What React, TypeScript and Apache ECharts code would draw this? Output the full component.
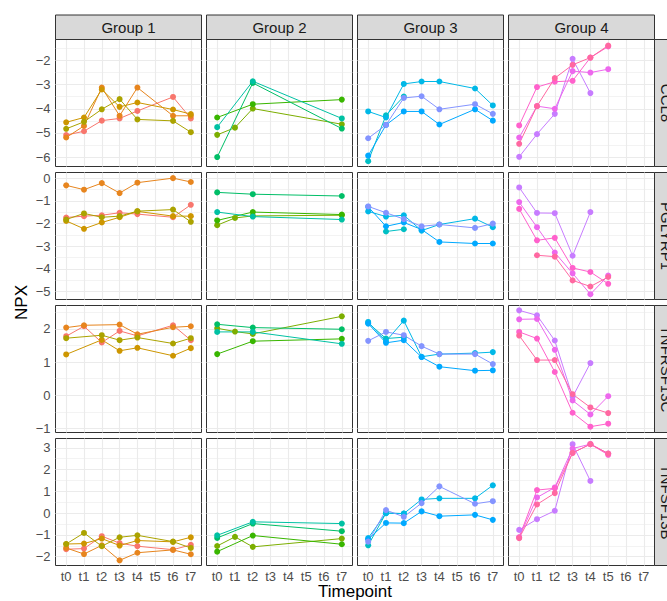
import React, { useEffect, useRef } from 'react';
import * as echarts from 'echarts';

const timepoints = ['t0', 't1', 't2', 't3', 't4', 't5', 't6', 't7'];
const groups = ['Group 1', 'Group 2', 'Group 3', 'Group 4'];
const proteins = ['CCL8', 'PGLYRP1', 'TNFRSF13C', 'TNFSF13B'];
const subjectColors = [
  '#F8766D', '#E7851E', '#CD9600', '#ABA300',
  '#7CAE00', '#39B600', '#00BE67', '#00C1A3',
  '#00BFC4', '#00B8E7', '#00A9FF', '#8494FF',
  '#C77CFF', '#ED68ED', '#FF61CC', '#FF68A1',
];
const subjectGroup = [0, 0, 0, 0, 1, 1, 1, 1, 2, 2, 2, 2, 3, 3, 3, 3];
const _ = null;

const ccl8 = [
  [-5.09, -4.93, -4.49, -4.40, -4.09, _, -3.51, -4.40],
  [-5.19, -4.71, -3.12, -4.29, -3.12, _, -4.29, -4.29],
  [-4.56, -4.36, -3.20, -3.92, -3.74, _, -4.03, -4.22],
  [-4.83, -4.54, -4.02, -3.60, -4.44, _, -4.50, -4.97],
  [-5.08, -4.78, -3.99, _, _, _, _, -4.64],
  [-4.36, _, -3.81, _, _, _, _, -3.62],
  [-6.00, _, -2.93, _, _, _, _, -4.82],
  [-4.76, _, -2.86, _, _, _, _, -4.40],
  [-6.17, -4.27, -3.49, _, _, _, _, _],
  [-4.11, -4.36, -2.97, -2.87, -2.87, _, -3.16, -3.86],
  [-5.94, -4.67, -4.11, -4.11, -4.65, _, -4.02, -4.49],
  [-5.22, -4.67, -3.55, -3.48, -4.02, _, -3.81, -4.21],
  [-5.99, -5.05, -4.21, -1.93, -3.35, _, _, _],
  [-5.19, -3.89, -4.00, -2.44, -2.50, -2.36, _, _],
  [-4.69, -3.10, -2.88, -2.84, -1.88, -1.42, _, _],
  [-5.45, -3.89, -2.73, -2.18, -1.88, -1.38, _, _],
];

const pglyrp1 = [
  [-1.73, -1.67, -1.63, -1.52, -1.58, _, -1.72, -1.17],
  [-0.31, -0.50, -0.21, -0.65, -0.19, _, 0.01, -0.16],
  [-1.88, -2.23, -1.95, -1.72, -1.46, _, -1.67, -1.67],
  [-1.82, -1.55, -1.72, -1.67, -1.45, _, -1.38, -1.92],
  [-2.07, -1.75, -1.66, _, _, _, _, -1.63],
  [-1.86, _, -1.49, _, _, _, _, -1.60],
  [-0.62, _, -0.70, _, _, _, _, -0.78],
  [-1.49, _, -1.69, _, _, _, _, -1.82],
  [_, -2.35, -2.25, _, _, _, _, _],
  [-1.46, -1.69, -1.63, -2.31, -2.04, _, -1.78, -2.16],
  [-1.26, -2.12, -1.95, -2.26, -2.81, _, -2.88, -2.88],
  [-1.24, -1.52, -1.80, -2.12, -2.04, _, -2.19, -2.00],
  [-0.40, -1.53, -1.54, -3.42, -1.49, _, _, _],
  [-1.05, -2.16, -3.28, -4.20, -5.12, -4.30, _, _],
  [-1.35, -2.74, -2.63, -3.96, -4.14, -4.66, _, _],
  [_, -3.40, -3.46, -4.51, -4.78, -4.36, _, _],
];

const tnfrsf13c = [
  [1.78, 2.08, 1.59, 1.94, 1.79, _, 2.11, 1.66],
  [2.04, 2.11, _, 2.13, 1.84, _, 2.05, 2.08],
  [1.23, _, 1.67, 1.34, 1.43, _, 1.19, 1.42],
  [1.72, _, 1.81, 1.66, 1.74, _, 1.56, 1.72],
  [2.02, 1.92, 1.85, _, _, _, _, 2.38],
  [1.24, _, 1.63, _, _, _, _, 1.70],
  [2.14, _, 2.04, _, _, _, _, 1.99],
  [1.91, _, 1.91, _, _, _, _, 1.55],
  [2.18, 1.71, 1.75, _, _, _, _, _],
  [2.21, 1.63, 2.25, 1.16, 1.24, _, 1.27, 1.30],
  [2.16, 1.58, 1.66, 1.15, 0.86, _, 0.74, 0.75],
  [1.64, 1.91, 1.81, 1.48, 1.24, _, 1.24, 0.94],
  [2.56, 2.41, 1.65, -0.05, 0.97, _, _, _],
  [2.29, 2.30, 1.37, -0.16, -0.58, -0.03, _, _],
  [1.91, 1.71, 0.70, -0.53, -0.95, -0.86, _, _],
  [1.80, 1.06, 1.06, 0.03, -0.37, -0.54, _, _],
];

const tnfsf13b = [
  [-1.66, -1.63, -1.06, -1.38, -1.52, _, -1.68, -1.46],
  [-1.60, -1.88, -1.48, -2.17, -1.82, _, -1.69, -1.89],
  [-1.42, -1.40, -1.17, -1.49, -1.26, _, -1.32, -1.11],
  [-1.42, -0.91, -1.52, -1.11, -1.02, _, -1.31, -1.60],
  [-1.51, -1.09, -1.55, _, _, _, _, -1.17],
  [-1.77, _, -1.03, _, _, _, _, -1.43],
  [-1.14, _, -0.48, _, _, _, _, -0.83],
  [-1.02, _, -0.40, _, _, _, _, -0.48],
  [-1.48, 0.00, -0.02, _, _, _, _, _],
  [-1.15, 0.00, -0.02, 0.63, 0.68, _, 0.68, 1.28],
  [-1.20, -0.45, -0.46, 0.08, -0.14, _, -0.08, -0.31],
  [-1.31, 0.14, -0.17, 0.46, 1.23, _, 0.43, 0.55],
  [-0.77, -0.28, 0.11, 3.17, 1.48, _, _, _],
  [-1.11, 0.72, 1.18, 2.97, 3.17, 2.74, _, _],
  [-1.11, 1.06, 1.14, 2.77, 3.17, 2.68, _, _],
  [-1.15, 0.40, 0.92, 2.77, 3.17, 2.74, _, _],
];

const proteinData = [ccl8, pglyrp1, tnfrsf13c, tnfsf13b];
const yRanges = [
  [-6.39, -1.13],
  [-5.355, 0.259],
  [-1.126, 2.707],
  [-2.407, 3.43],
];
const yTicks = [
  [-6, -5, -4, -3, -2],
  [-5, -4, -3, -2, -1, 0],
  [-1, 0, 1, 2],
  [-2, -1, 0, 1, 2, 3],
];

const FONT = '"Liberation Sans", Arial, Helvetica, sans-serif';
const colLeft = [55.5, 206.5, 357.5, 508.5];
const rowTop = [39.5, 172.5, 305.5, 438.5];
const PW = 146;
const PH = 127;

function fmtNum(v: number) {
  return v < 0 ? '\u2212' + Math.abs(v) : String(v);
}

export default function App() {
  const ref = useRef<HTMLDivElement>(null);
  useEffect(() => {
    const chart = echarts.init(ref.current!, null, { renderer: 'svg' });
    const grid: any[] = [];
    const xAxis: any[] = [];
    const yAxis: any[] = [];
    const series: any[] = [];
    const graphic: any[] = [];
    const xIdx = timepoints.map((_t, i) => i);

    for (let r = 0; r < 4; r++) {
      const [ymin, ymax] = yRanges[r];
      const majors = yTicks[r];
      const minors: number[] = [];
      const lo = Math.floor(ymin) - 1;
      for (let k = lo; k <= Math.ceil(ymax) + 1; k++) {
        const m = k + 0.5;
        if (m > ymin && m < ymax) minors.push(m);
      }
      for (let c = 0; c < 4; c++) {
        const idx = r * 4 + c;
        grid.push({
          left: colLeft[c], top: rowTop[r], width: PW, height: PH,
          show: true, borderColor: '#333333', borderWidth: 1, backgroundColor: '#FFFFFF',
        });
        xAxis.push({
          type: 'value', gridIndex: idx, min: -0.6, max: 7.6,
          axisLine: { show: false }, splitLine: { show: false },
          axisTick: { show: r === 3, customValues: xIdx, length: 3, lineStyle: { color: '#333333' } },
          axisLabel: {
            show: r === 3, customValues: xIdx, margin: 4, color: '#4D4D4D', fontSize: 13, fontFamily: FONT,
            formatter: (v: number) => timepoints[Math.round(v)],
          },
        });
        yAxis.push({
          type: 'value', gridIndex: idx, min: ymin, max: ymax,
          axisLine: { show: false }, splitLine: { show: false },
          axisTick: { show: c === 0, customValues: majors, length: 3, lineStyle: { color: '#333333' } },
          axisLabel: {
            show: c === 0, customValues: majors, margin: 5, color: '#4D4D4D', fontSize: 13, fontFamily: FONT,
            formatter: (v: number) => fmtNum(v),
          },
        });
        const ml: any[] = [];
        minors.forEach((v) => ml.push({ yAxis: v, lineStyle: { color: '#EBEBEB', width: 0.6, type: 'solid' } }));
        majors.forEach((v) => ml.push({ yAxis: v, lineStyle: { color: '#EBEBEB', width: 1.1, type: 'solid' } }));
        xIdx.forEach((v) => ml.push({ xAxis: v, lineStyle: { color: '#EBEBEB', width: 1.1, type: 'solid' } }));
        series.push({
          type: 'line', xAxisIndex: idx, yAxisIndex: idx, data: [[0, majors[0]]],
          showSymbol: false, symbol: 'none', lineStyle: { opacity: 0 }, silent: true, z: 1,
          markLine: {
            silent: true, symbol: ['none', 'none'], z: 1, label: { show: false },
            emphasis: { disabled: true }, data: ml,
          },
        });
      }
      // subjects
      const rows = proteinData[r];
      rows.forEach((vals, s) => {
        const c = subjectGroup[s];
        const idx = r * 4 + c;
        const pts: number[][] = [];
        vals.forEach((v, i) => { if (v !== null && v !== undefined) pts.push([i, v as number]); });
        series.push({
          type: 'line', xAxisIndex: idx, yAxisIndex: idx, data: pts,
          symbol: 'circle', symbolSize: 6, showSymbol: true,
          lineStyle: { width: 1, color: subjectColors[s] },
          itemStyle: { color: subjectColors[s] },
          emphasis: { disabled: true }, z: 3,
        });
      });
      // right strip
      graphic.push({
        type: 'rect', shape: { x: 654.5, y: rowTop[r], width: 30, height: PH },
        style: { fill: '#D9D9D9', stroke: '#333333', lineWidth: 1 }, z: 10,
      });
      graphic.push({
        type: 'text', x: 666, y: rowTop[r] + PH / 2, rotation: -Math.PI / 2, z: 11,
        style: {
          text: proteins[r], fill: '#1A1A1A', fontSize: 15, fontFamily: FONT,
          align: 'center', verticalAlign: 'middle',
        },
      });
    }
    for (let c = 0; c < 4; c++) {
      graphic.push({
        type: 'rect', shape: { x: colLeft[c], y: 15, width: PW, height: 24.5 },
        style: { fill: '#D9D9D9', stroke: '#333333', lineWidth: 1 }, z: 10,
      });
      graphic.push({
        type: 'text', x: colLeft[c] + PW / 2, y: 27.5, z: 11,
        style: {
          text: groups[c], fill: '#1A1A1A', fontSize: 15, fontFamily: FONT,
          align: 'center', verticalAlign: 'middle',
        },
      });
    }
    graphic.push({
      type: 'text', x: 21.5, y: 302.5, rotation: Math.PI / 2, z: 11,
      style: { text: 'NPX', fill: '#000000', fontSize: 17, fontFamily: FONT, align: 'center', verticalAlign: 'middle' },
    });
    graphic.push({
      type: 'text', x: 355, y: 583, z: 11,
      style: { text: 'Timepoint', fill: '#000000', fontSize: 17, fontFamily: FONT, align: 'center', verticalAlign: 'top' },
    });

    chart.setOption({
      animation: false,
      backgroundColor: '#FFFFFF',
      grid, xAxis, yAxis, series, graphic,
    });
    return () => chart.dispose();
  }, []);
  return <div ref={ref} style={{ position: 'fixed', left: 0, top: 0, width: 667, height: 601 }} />;
}
